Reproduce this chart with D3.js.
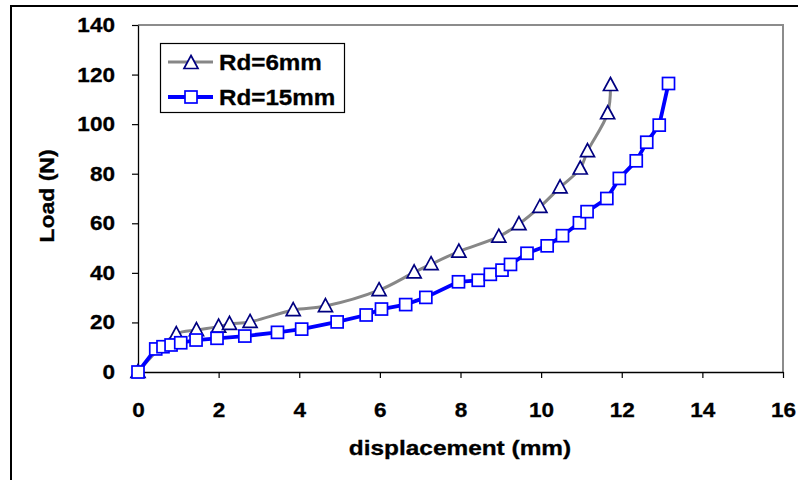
<!DOCTYPE html>
<html><head><meta charset="utf-8">
<script src="https://cdn.jsdelivr.net/npm/d3@7"></script>
<style>
body{margin:0;background:#fff}
svg{display:block}
text{font-family:"Liberation Sans",Arial,sans-serif;font-weight:bold;fill:#000;stroke:#000;stroke-width:0.3px}
</style></head>
<body><svg id="c" width="798" height="480"></svg>
<script>
// ---- data ----
const xTicks = [0, 2, 4, 6, 8, 10, 12, 14, 16];
const yTicks = [0, 20, 40, 60, 80, 100, 120, 140];
const seriesNames = ["Rd=6mm", "Rd=15mm"];

const rd6X = [0, 0.95, 1.45, 2.0, 2.27, 2.78, 3.85, 4.65, 5.98, 6.85, 7.27, 7.96, 8.95, 9.45, 9.97, 10.47, 10.97, 11.15, 11.65, 11.72];
const rd6Y = [0, 15.3, 16.9, 18.3, 19.4, 20.2, 25.0, 26.6, 33.0, 40.2, 43.5, 48.6, 54.6, 59.7, 66.6, 74.5, 82.1, 89.1, 104.4, 115.8];

const rd15X = [0, 0.44, 0.62, 0.82, 1.06, 1.44, 1.96, 2.65, 3.46, 4.06, 4.94, 5.66, 6.04, 6.64, 7.14, 7.95, 8.44, 8.74, 9.03, 9.24, 9.65, 10.15, 10.53, 10.95, 11.14, 11.63, 11.94, 12.36, 12.62, 12.93, 13.16];
const rd15Y = [0, 9.3, 10.2, 10.9, 11.8, 12.9, 13.6, 14.5, 16.0, 17.3, 20.2, 23.0, 25.4, 27.2, 30.1, 36.4, 37.0, 39.4, 41.1, 43.4, 47.9, 50.9, 55.0, 60.2, 64.7, 70.0, 78.1, 85.2, 92.7, 99.6, 116.4];

// ---- chart ----
const svg = d3.select("#c");
function stretch(sel, k) {
  sel.each(function () {
    const len = this.getComputedTextLength();
    d3.select(this).attr("textLength", len * k).attr("lengthAdjust", "spacingAndGlyphs");
  });
}

// outer frame
svg.append("rect").attr("x", 11).attr("y", 6).attr("width", 800).attr("height", 500)
  .attr("fill", "#fff").attr("stroke", "#000").attr("stroke-width", 2);

const x = d3.scaleLinear().domain([0, 16]).range([138, 783]);
const y = d3.scaleLinear().domain([0, 140]).range([372, 25]);

// plot area border (gray top/right)
svg.append("path")
  .attr("d", `M${x(0)},${y(140)}H${x(16)}V${y(0)}`)
  .attr("fill", "none").attr("stroke", "#8c8c8c").attr("stroke-width", 2);

// axes
const gx = svg.append("g").attr("transform", `translate(0,${y(0)})`)
  .call(d3.axisBottom(x).tickValues(xTicks).tickSize(6).tickSizeOuter(0).tickPadding(24).tickFormat(d3.format("d")));
const gy = svg.append("g").attr("transform", `translate(${x(0)},0)`)
  .call(d3.axisLeft(y).tickValues(yTicks).tickSize(6).tickSizeOuter(0).tickPadding(17).tickFormat(d3.format("d")));
[gx, gy].forEach(g => {
  g.select(".domain").attr("stroke", "#000").attr("stroke-width", 1.3);
  g.selectAll(".tick line").attr("stroke", "#000").attr("stroke-width", 1.2);
  g.selectAll(".tick text").attr("font-size", 20.5).attr("font-family", "Liberation Sans, Arial, sans-serif").attr("font-weight", "bold").attr("fill", "#000");
});
stretch(gx.selectAll(".tick text"), 1.1);
stretch(gy.selectAll(".tick text"), 1.1);

// axis titles
const xt = svg.append("text").attr("x", 460).attr("y", 455).attr("text-anchor", "middle")
  .attr("font-size", 20.5).text("displacement (mm)");
stretch(xt, 1.19);
const yt = svg.append("text").attr("transform", "translate(54,196) rotate(-90)").attr("text-anchor", "middle")
  .attr("font-size", 20.5).text("Load (N)");
stretch(yt, 1.12);

// series
const rd6 = rd6X.map((d, i) => [d, rd6Y[i]]);
const rd15 = rd15X.map((d, i) => [d, rd15Y[i]]);

const line6 = d3.line().x(d => x(d[0])).y(d => y(d[1])).curve(d3.curveCatmullRom.alpha(0.5));
const line15 = d3.line().x(d => x(d[0])).y(d => y(d[1]));

const triPath = "M0,-7.5L7,5.5L-7,5.5Z";
const sq = 12;

svg.append("path").attr("d", line6(rd6)).attr("fill", "none").attr("stroke", "#878787").attr("stroke-width", 3);
svg.append("g").selectAll("path").data(rd6).join("path")
  .attr("d", triPath).attr("transform", d => `translate(${x(d[0])},${y(d[1])})`)
  .attr("fill", "#fff").attr("stroke", "#000080").attr("stroke-width", 1.7);

svg.append("path").attr("d", line15(rd15)).attr("fill", "none").attr("stroke", "#0000ff").attr("stroke-width", 3.8).attr("stroke-linejoin", "round");
svg.append("g").selectAll("rect").data(rd15).join("rect")
  .attr("x", d => x(d[0]) - sq / 2).attr("y", d => y(d[1]) - sq / 2)
  .attr("width", sq).attr("height", sq)
  .attr("fill", "#fff").attr("stroke", "#0000ff").attr("stroke-width", 1.7);

// legend
const lg = svg.append("g");
lg.append("rect").attr("x", 160.5).attr("y", 43.5).attr("width", 184).attr("height", 69)
  .attr("fill", "#fff").attr("stroke", "#000").attr("stroke-width", 1.2);
const rows = [62, 97];
lg.append("line").attr("x1", 168).attr("x2", 213).attr("y1", rows[0]).attr("y2", rows[0])
  .attr("stroke", "#878787").attr("stroke-width", 3);
lg.append("path").attr("d", triPath).attr("transform", `translate(191,${rows[0] + 1})`)
  .attr("fill", "#fff").attr("stroke", "#000080").attr("stroke-width", 1.7);
lg.append("line").attr("x1", 168).attr("x2", 213).attr("y1", rows[1]).attr("y2", rows[1])
  .attr("stroke", "#0000ff").attr("stroke-width", 3.8);
lg.append("rect").attr("x", 191 - sq / 2).attr("y", rows[1] - sq / 2).attr("width", sq).attr("height", sq)
  .attr("fill", "#fff").attr("stroke", "#0000ff").attr("stroke-width", 1.7);
const lt = lg.selectAll("text.lg").data(seriesNames).join("text").attr("class", "lg")
  .attr("x", 219).attr("y", (d, i) => rows[i] + 8).attr("font-size", 22).text(d => d);
stretch(lt, 1.1);
</script></body></html>
